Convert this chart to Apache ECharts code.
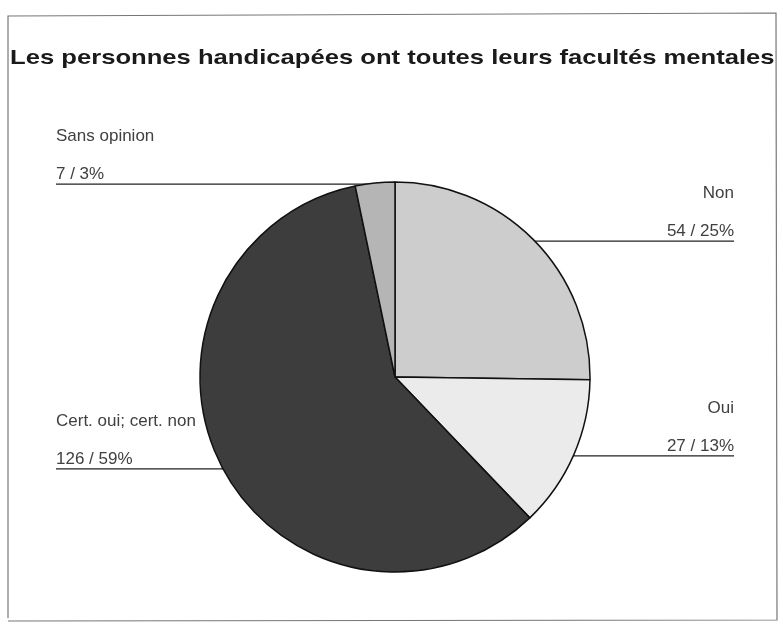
<!DOCTYPE html>
<html>
<head>
<meta charset="utf-8">
<script src="https://cdn.jsdelivr.net/npm/echarts@6/dist/echarts.min.js"></script>
<style>html,body{margin:0;padding:0;background:#fff;}#c{width:783px;height:629px;}</style>
</head>
<body>
<div id="c"></div>
<script>
var titleText = 'Les personnes handicapées ont toutes leurs facultés mentales';
var categories = ['Non', 'Oui', 'Cert. oui; cert. non', 'Sans opinion'];
var counts = [54, 27, 126, 7];
var percents = [25, 13, 59, 3];
var colors = ['#cdcdcd', '#ebebeb', '#3d3d3d', '#b5b5b5'];

var chart = echarts.init(document.getElementById('c'));
var data = categories.map(function (c, i) {
  return { name: c, value: counts[i], pct: percents[i], itemStyle: { color: colors[i] } };
});
chart.setOption({
  animation: false,
  backgroundColor: '#fff',
  graphic: [{
    type: 'polyline',
    shape: { points: [[8, 618], [8, 16], [776, 13], [777, 620], [8, 621]] },
    style: { stroke: '#777', lineWidth: 1.2, fill: null },
    z: -1
  }, {
    type: 'text',
    x: 10, y: 58,
    scaleX: 1.22,
    style: {
      text: titleText,
      font: 'bold 21px "Liberation Sans"',
      fill: '#1a1a1a',
      verticalAlign: 'middle',
      align: 'left'
    }
  }],
  series: [{
    type: 'pie',
    center: [395, 377],
    radius: 195,
    startAngle: 90,
    clockwise: true,
    data: data,
    itemStyle: { borderColor: '#111', borderWidth: 1.5 },
    label: {
      show: true,
      position: 'outside',
      formatter: function (p) { return p.name + '\n' + p.value + ' / ' + p.data.pct + '%'; },
      fontFamily: 'Liberation Sans',
      fontSize: 17,
      lineHeight: 38,
      color: '#404040'
    },
    labelLine: { show: true, length: 0, length2: 10, lineStyle: { color: '#222', width: 1.3 } },
    labelLayout: function (params) {
      var pts = params.labelLinePoints;
      var p0 = pts[0];
      var isLeft = p0[0] < 395;
      var edgeX = isLeft ? 56 : 734;
      var lineY = p0[1] + 1;
      return {
        x: edgeX,
        y: lineY + 9,
        align: isLeft ? 'left' : 'right',
        verticalAlign: 'bottom',
        labelLinePoints: [[p0[0], p0[1]], [p0[0], lineY], [edgeX, lineY]]
      };
    }
  }]
});
</script>
</body>
</html>
